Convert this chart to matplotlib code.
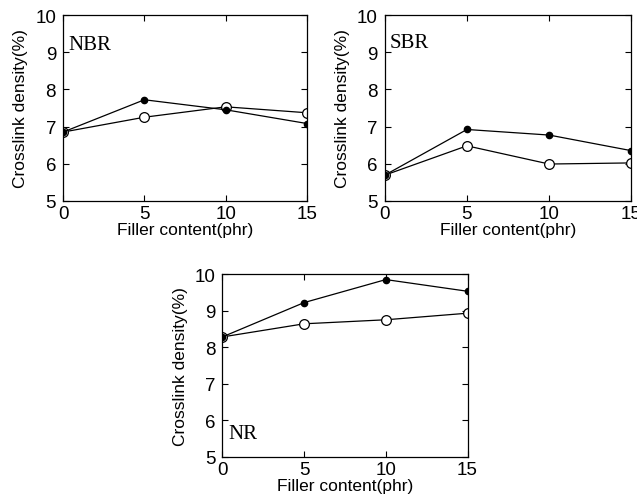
import matplotlib.pyplot as plt

# filler content (phr)
filler = [0, 5, 10, 15]

# crosslink density (%) - filled markers / open markers
nbr_filled = [6.85, 7.72, 7.45, 7.08]
nbr_open = [6.85, 7.25, 7.53, 7.37]
sbr_filled = [5.69, 6.92, 6.77, 6.35]
sbr_open = [5.69, 6.48, 5.99, 6.02]
nr_filled = [8.28, 9.22, 9.85, 9.53]
nr_open = [8.28, 8.64, 8.75, 8.93]

panels = [
    ('NBR', nbr_filled, nbr_open, [0.099, 0.598, 0.383, 0.370], (0.3, 9.22)),
    ('SBR', sbr_filled, sbr_open, [0.604, 0.598, 0.387, 0.370], (0.3, 9.25)),
    ('NR', nr_filled, nr_open, [0.349, 0.088, 0.385, 0.364], (0.35, 5.65)),
]

plt.rcParams['font.family'] = ['Liberation Sans', 'DejaVu Sans']

fig = plt.figure(figsize=(6.37, 5.02), dpi=100)

for name, filled, opened, pos, txt in panels:
    ax = fig.add_axes(pos)
    ax.plot(filler, opened, color='black', lw=0.9, marker='o', ms=7,
            mfc='white', mec='black', mew=0.9)
    ax.plot(filler, filled, color='black', lw=0.9, marker='o', ms=4.5,
            mfc='black', mec='black')
    ax.set_xlim(0, 15)
    ax.set_ylim(5, 10)
    ax.set_xticks(filler)
    ax.set_yticks([5, 6, 7, 8, 9, 10])
    ax.tick_params(direction='in', top=True, right=True, labelsize=13.5,
                   length=4, width=0.8)
    ax.tick_params(axis='x', pad=3)
    ax.tick_params(axis='y', pad=5)
    for s in ax.spines.values():
        s.set_linewidth(0.9)
    ax.set_xlabel('Filler content(phr)', fontsize=12.5, labelpad=0)
    ax.set_ylabel('Crosslink density(%)', fontsize=12.5, labelpad=5)
    ax.text(txt[0], txt[1], name, family='Liberation Serif', fontsize=15,
            ha='left', va='center')

fig.savefig('out.png', dpi=100)
